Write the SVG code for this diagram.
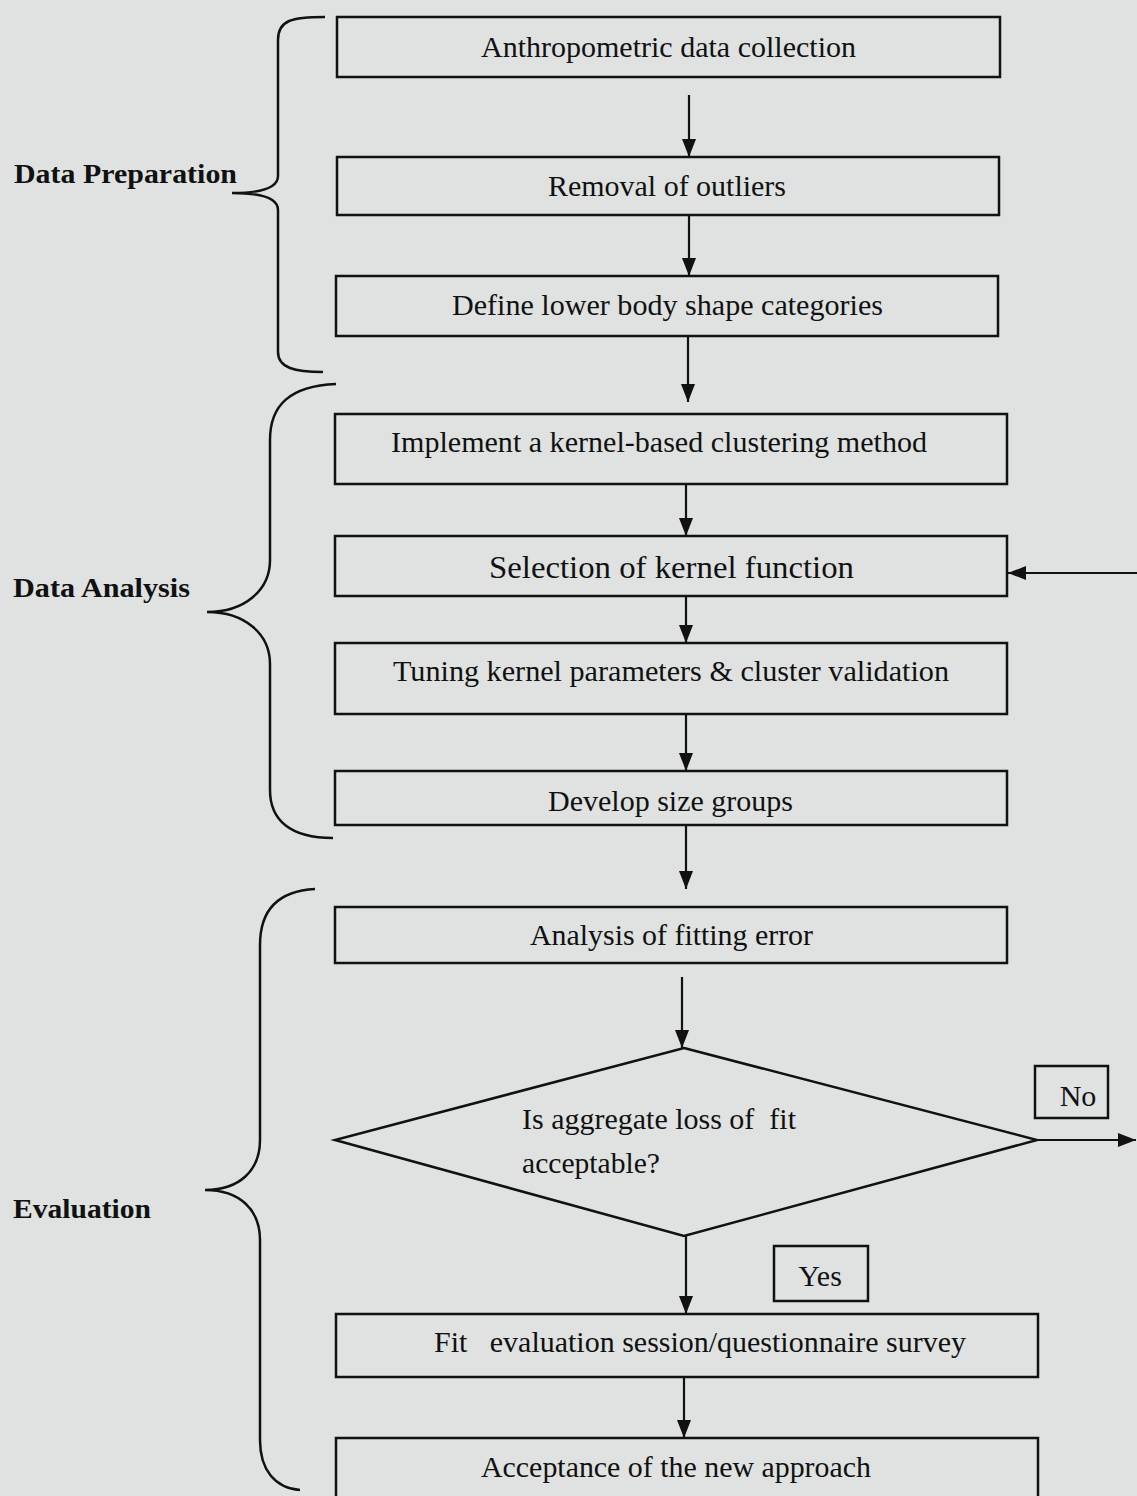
<svg xmlns="http://www.w3.org/2000/svg" width="1137" height="1496" viewBox="0 0 1137 1496">
<defs>
<marker id="ah" markerUnits="userSpaceOnUse" markerWidth="20" markerHeight="14" refX="18" refY="7" orient="auto">
<path d="M0,0 L18,7 L0,14 z" fill="#111"/>
</marker>
<style>
.box{fill:none;stroke:#111;stroke-width:2.5}
.t{font-family:"Liberation Serif","Times New Roman",serif;font-size:30px;fill:#111;text-anchor:middle}
.l{font-family:"Liberation Serif","Times New Roman",serif;font-size:28px;font-weight:bold;fill:#111}
.c{fill:none;stroke:#111;stroke-width:2.2;marker-end:url(#ah)}
.br{fill:none;stroke:#111;stroke-width:2.5}
</style>
</defs>
<rect x="0" y="0" width="1137" height="1496" fill="#dfe2e1"/>

<g id="labels">
<g id="label-data-preparation">
<text class="l" x="14" y="183" textLength="223" lengthAdjust="spacingAndGlyphs">Data Preparation</text>
<path class="br" d="M325,17 C292,17 278,20 278,40 L278,176 C278,188 262,193 232,193 C262,193 278,198 278,210 L278,352 C278,368 295,372 323,372"/>
</g>
<g id="label-data-analysis">
<text class="l" x="13" y="597" textLength="177" lengthAdjust="spacingAndGlyphs">Data Analysis</text>
<path class="br" d="M336,384 C290,386 270,405 270,440 L270,560 C270,590 245,612 207,612 C245,612 270,634 270,664 L270,790 C270,820 290,838 333,838"/>
</g>
<g id="label-evaluation">
<text class="l" x="13" y="1218" textLength="138" lengthAdjust="spacingAndGlyphs">Evaluation</text>
<path class="br" d="M315,889 C278,891 260,910 260,945 L260,1140 C260,1170 240,1190 205,1190 C240,1190 260,1210 260,1240 L260,1440 C260,1470 275,1488 300,1490"/>
</g>
</g>

<g id="connectors">
<line class="c" x1="689" y1="95" x2="689" y2="157"/>
<line class="c" x1="689" y1="215" x2="689" y2="276"/>
<line class="c" x1="688" y1="336" x2="688" y2="402"/>
<line class="c" x1="686" y1="484" x2="686" y2="536"/>
<line class="c" x1="686" y1="596" x2="686" y2="643"/>
<line class="c" x1="686" y1="714" x2="686" y2="771"/>
<line class="c" x1="686" y1="825" x2="686" y2="889"/>
<line class="c" x1="682" y1="977" x2="682" y2="1048"/>
<line class="c" x1="686" y1="1236" x2="686" y2="1314"/>
<line class="c" x1="684" y1="1377" x2="684" y2="1438"/>
<line class="c" x1="1037" y1="1140" x2="1136" y2="1140"/>
<line class="c" x1="1137" y1="573" x2="1008" y2="573"/>
</g>

<g id="n1"><rect class="box" x="337" y="17" width="663" height="60"/><text class="t" x="668.5" y="57" textLength="375" lengthAdjust="spacingAndGlyphs">Anthropometric data collection</text></g>
<g id="n2"><rect class="box" x="337" y="157" width="662" height="58"/><text class="t" x="667" y="196" textLength="238" lengthAdjust="spacingAndGlyphs">Removal of outliers</text></g>
<g id="n3"><rect class="box" x="336" y="276" width="662" height="60"/><text class="t" x="667.5" y="315" textLength="431" lengthAdjust="spacingAndGlyphs">Define lower body shape categories</text></g>
<g id="n4"><rect class="box" x="335" y="414" width="672" height="70"/><text class="t" x="659" y="452" textLength="536" lengthAdjust="spacingAndGlyphs">Implement a kernel-based clustering method</text></g>
<g id="n5"><rect class="box" x="335" y="536" width="672" height="60"/><text class="t" x="671.5" y="578" style="font-size:32px" textLength="365" lengthAdjust="spacingAndGlyphs">Selection of kernel function</text></g>
<g id="n6"><rect class="box" x="335" y="643" width="672" height="71"/><text class="t" x="671" y="681" textLength="556" lengthAdjust="spacingAndGlyphs">Tuning kernel parameters &amp; cluster validation</text></g>
<g id="n7"><rect class="box" x="335" y="771" width="672" height="54"/><text class="t" x="670.5" y="811" textLength="245" lengthAdjust="spacingAndGlyphs">Develop size groups</text></g>
<g id="n8"><rect class="box" x="335" y="907" width="672" height="56"/><text class="t" x="671.5" y="945" textLength="283" lengthAdjust="spacingAndGlyphs">Analysis of fitting error</text></g>
<g id="n9"><polygon class="box" points="684,1048 1037,1140 684,1236 335,1140"/>
<text class="t" x="522" y="1129" style="text-anchor:start;white-space:pre" textLength="274" lengthAdjust="spacingAndGlyphs">Is aggregate loss of  fit</text>
<text class="t" x="522" y="1173" style="text-anchor:start" textLength="138" lengthAdjust="spacingAndGlyphs">acceptable?</text></g>
<g id="n-no"><rect class="box" x="1035" y="1066" width="73" height="52"/><text class="t" x="1078" y="1106">No</text></g>
<g id="n-yes"><rect class="box" x="774" y="1246" width="94" height="55"/><text class="t" x="820" y="1286">Yes</text></g>
<g id="n10"><rect class="box" x="336" y="1314" width="702" height="63"/><text class="t" x="700" y="1352" style="white-space:pre" textLength="532" lengthAdjust="spacingAndGlyphs">Fit   evaluation session/questionnaire survey</text></g>
<g id="n11"><rect class="box" x="336" y="1438" width="702" height="70"/><text class="t" x="676" y="1477" textLength="390" lengthAdjust="spacingAndGlyphs">Acceptance of the new approach</text></g>
</svg>
